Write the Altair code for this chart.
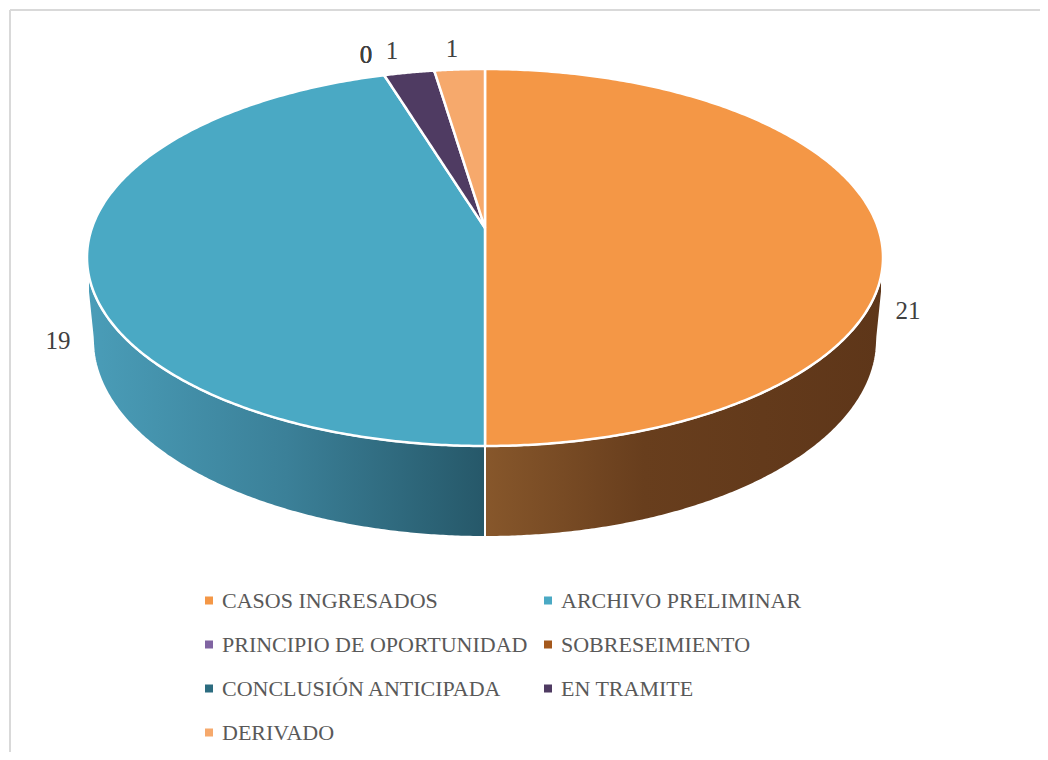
import numpy as np
import pandas as pd
import altair as alt

categories = ["CASOS INGRESADOS", "ARCHIVO PRELIMINAR", "PRINCIPIO DE OPORTUNIDAD",
              "SOBRESEIMIENTO", "CONCLUSIÓN ANTICIPADA", "EN TRAMITE", "DERIVADO"]
values = [21, 19, 0, 0, 0, 1, 1]
colors = ["#F49746", "#4AA9C4", "#8064A2", "#A4581C", "#2C6C80", "#4F3B62", "#F6A96C"]
label_text = ["21", "19", "0", "0", "0", "1", "1"]

# Geometry of the tilted disc, used to project the pie onto the page
CX, APEX_Y, R, S, TILT = 485.0, 228.0, 393.0, 184.0, 0.1565
ECY, ERX, ERY = 257.5, 398.0, 188.5
BCY, BRX, BRY = 340.0, 392.0, 197.0
label_x = [908, 58, 366, 366, 366, 392, 452]
label_y = [311, 341, 55, 55, 55, 51, 49]


def rim_top(x):
    return ECY - ERY * np.sqrt(np.clip(1 - ((x - CX) / ERX) ** 2, 0, 1))


def rim_bottom(x):
    return ECY + ERY * np.sqrt(np.clip(1 - ((x - CX) / ERX) ** 2, 0, 1))


def floor_edge(x):
    return BCY + BRY * np.sqrt(np.clip(1 - ((x - CX) / BRX) ** 2, 0, 1))


def spoke(x, x_rim):
    return APEX_Y + (rim_top(x_rim) - APEX_Y) * (x - CX) / (x_rim - CX)


def rim_x(cum):
    theta = 2 * np.pi * cum / sum(values)
    u, v = np.sin(theta), np.cos(theta)
    return CX + R * u / (1 + TILT * v)


def xs(a, b, n=160):
    ta = np.arcsin((a - CX) / ERX)
    tb = np.arcsin((b - CX) / ERX)
    return CX + ERX * np.sin(np.linspace(ta, tb, n))


x_blue = rim_x(sum(values[:5]))
x_purple = rim_x(sum(values[:6]))
LEFT, RIGHT = CX - ERX, CX + ERX

rows = []


def add(name, x, y, y2):
    for a, b, c in zip(x, y, y2):
        rows.append({"name": name, "x": float(a), "y": float(b), "y2": float(c)})


x = xs(CX, RIGHT)
add(categories[0], x, rim_top(x), rim_bottom(x))
x = xs(LEFT, CX)
add(categories[1], x, np.where(x < x_blue, rim_top(x), spoke(x, x_blue)), rim_bottom(x))
x = xs(x_blue, CX, 60)
add(categories[5], x, np.where(x < x_purple, rim_top(x), spoke(x, x_purple)), spoke(x, x_blue))
x = xs(x_purple, CX, 40)
add(categories[6], x, rim_top(x), spoke(x, x_purple))
face = pd.DataFrame(rows)


def wall(a, b, side):
    x = xs(a, b, 200)
    xedge = CX + side * BRX
    y2 = floor_edge(x).copy()
    outer = side * (x - xedge) > 0
    y2[outer] = BCY - (BCY - 282) * (side * (x[outer] - xedge)) / (ERX - BRX)
    y = rim_bottom(x)
    y2 = np.maximum(y, y2)
    return pd.DataFrame({"x": x, "y": y, "y2": y2})


xscale = alt.Scale(domain=[8, 1040], range=[0, 1032], nice=False, zero=False)
yscale = alt.Scale(domain=[8, 752], range=[0, 744], nice=False, zero=False)
X = alt.X("x:Q", scale=xscale, axis=None)
Y = alt.Y("y:Q", scale=yscale, axis=None, stack=None)
Y2 = alt.Y2("y2:Q")

left_wall = alt.Chart(wall(LEFT + 1, CX, -1)).mark_area(
    stroke="white", strokeWidth=2, opacity=1,
    fill=alt.Gradient(gradient="linear", x1=0, x2=1, y1=0, y2=0, stops=[
        alt.GradientStop(offset=0, color="#4A9DB8"),
        alt.GradientStop(offset=0.5, color="#3B8098"),
        alt.GradientStop(offset=1, color="#265869")]),
).encode(x=X, y=Y, y2=Y2)

right_wall = alt.Chart(wall(CX, RIGHT - 1, 1)).mark_area(
    stroke="white", strokeWidth=2, opacity=1,
    fill=alt.Gradient(gradient="linear", x1=0, x2=1, y1=0, y2=0, stops=[
        alt.GradientStop(offset=0, color="#87572B"),
        alt.GradientStop(offset=0.4, color="#683E1D"),
        alt.GradientStop(offset=1, color="#5E3619")]),
).encode(x=X, y=Y, y2=Y2)

top = alt.Chart(face).mark_area(stroke="white", strokeWidth=2.5, opacity=1).encode(
    x=X, y=Y, y2=Y2,
    color=alt.Color("name:N", sort=categories,
                    scale=alt.Scale(domain=categories, range=colors),
                    legend=alt.Legend(
                        title=None, orient="none", legendX=190, legendY=579.5,
                        direction="horizontal", columns=2, symbolType="square",
                        symbolSize=64, symbolStrokeWidth=0, symbolOpacity=1,
                        labelFont="Liberation Serif", labelFontSize=22,
                        labelColor="#595959", labelLimit=400, labelOffset=2,
                        rowPadding=18, columnPadding=9, clipHeight=26, symbolOffset=0)),
)

labels = alt.Chart(pd.DataFrame({"x": label_x, "y": label_y, "t": label_text})).mark_text(
    font="Liberation Serif", fontSize=25, color="#404040", align="center", baseline="middle"
).encode(x=X, y=Y, text="t:N")

border_top = alt.Chart(pd.DataFrame({"x": [10], "x2": [1040], "y": [10]})).mark_rule(
    color="#D9D9D9", strokeWidth=2).encode(x=X, x2="x2:Q", y=Y)
border_left = alt.Chart(pd.DataFrame({"x": [10], "y": [10], "y2": [752]})).mark_rule(
    color="#D9D9D9", strokeWidth=2).encode(x=X, y=Y, y2=Y2)

chart = alt.layer(border_top, border_left, left_wall, right_wall, top, labels).properties(
    width=1032, height=744, padding=0,
    autosize=alt.AutoSizeParams(type="none"),
).configure_view(stroke=None, clip=False)

chart.save("out.html", embed_options={"renderer": "svg", "actions": False})
